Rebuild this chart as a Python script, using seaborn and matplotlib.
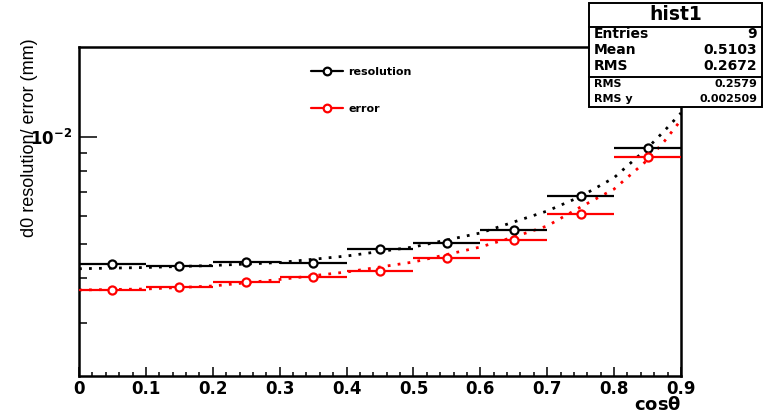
import matplotlib
matplotlib.use("Agg")
import matplotlib.pyplot as plt
import numpy as np
import pandas as pd
import seaborn as sns
from matplotlib.lines import Line2D
from matplotlib.patches import Rectangle
from matplotlib.ticker import LogLocator, NullFormatter, FixedLocator, FixedFormatter, MultipleLocator

# Bin centres of cos(theta) and the half width of each bin
cos_centres = [0.05, 0.15, 0.25, 0.35, 0.45, 0.55, 0.65, 0.75, 0.85]
bin_half = 0.05
tick_labels = ["0", "0.1", "0.2", "0.3", "0.4", "0.5", "0.6", "0.7", "0.8", "0.9"]

# d0 resolution and d0 error (mm)
resolution = [0.004397, 0.004325, 0.004455, 0.004408, 0.004846,
              0.005037, 0.005469, 0.006828, 0.009277]
error = [0.003710, 0.003790, 0.003914, 0.004035, 0.004202,
         0.004554, 0.005126, 0.006074, 0.008786]

# Dotted fit curves
fit_x = [0.0, 0.1, 0.2, 0.3, 0.4, 0.5, 0.6, 0.65, 0.7, 0.75, 0.8, 0.85, 0.875, 0.9]
fit_resolution = [0.004257, 0.004291, 0.004347, 0.004431, 0.004622, 0.004899,
                  0.005364, 0.005760, 0.006184, 0.006792, 0.007672, 0.009296,
                  0.010380, 0.011658]
fit_error = [0.003710, 0.003734, 0.003807, 0.003971, 0.004168, 0.004446,
             0.004899, 0.005226, 0.005614, 0.006346, 0.007128, 0.008603,
             0.009700, 0.011140]

# Stats box
stats_main = [("Entries", "9"), ("Mean", "0.5103"), ("RMS", "0.2672")]
stats_extra = [("RMS", "0.2579"), ("RMS y", "0.002509")]

sns.set_style("white")
plt.rcParams["font.family"] = ["DejaVu Sans"]
plt.rcParams["mathtext.fontset"] = "dejavusans"
for key in ["text.color", "axes.labelcolor", "xtick.color", "ytick.color"]:
    plt.rcParams[key] = "black"

fig = plt.figure(figsize=(7.65, 4.13), dpi=100)
ax = fig.add_axes([0.1033, 0.0903, 0.7869, 0.7971])

pts = pd.DataFrame({"cos": cos_centres, "resolution": resolution, "error": error})
fits = pd.DataFrame({"cos": fit_x, "resolution": fit_resolution, "error": fit_error})

for col, colour in [("resolution", "black"), ("error", "#ff0000")]:
    sns.lineplot(data=fits, x="cos", y=col, color=colour, lw=2.0,
                 linestyle=(0, (1, 2.6)), sort=False, estimator=None, ax=ax)
    ax.errorbar(pts["cos"], pts[col], xerr=bin_half, fmt="none",
                ecolor=colour, elinewidth=1.6, capsize=0, zorder=3)
    sns.scatterplot(data=pts, x="cos", y=col, marker="o", s=34,
                    facecolor="white", edgecolor=colour, linewidth=1.6,
                    zorder=4, ax=ax)

ax.set_yscale("log")
ax.set_xlim(0, 0.9)
ax.set_ylim(0.002131, 0.01792)

# ticks, ROOT style (inside, bottom and left only)
ax.set_xticks([i / 10 for i in range(10)])
ax.set_xticklabels(tick_labels, fontsize=12, fontweight="bold")
ax.xaxis.set_minor_locator(MultipleLocator(0.02))
ax.yaxis.set_major_locator(FixedLocator([0.01]))
ax.yaxis.set_major_formatter(FixedFormatter([r"$\mathbf{10^{-2}}$"]))
ax.yaxis.set_minor_locator(LogLocator(base=10, subs=np.arange(2, 10)))
ax.yaxis.set_minor_formatter(NullFormatter())
ax.tick_params(which="both", bottom=True, left=True, top=False, right=False)
ax.tick_params(axis="x", which="major", direction="in", length=6.5, width=1.1, pad=3)
ax.tick_params(axis="x", which="minor", direction="in", length=3.2, width=1.1)
ax.tick_params(axis="y", which="major", direction="in", length=13, width=1.1,
               pad=5, labelsize=12)
ax.tick_params(axis="y", which="minor", direction="in", length=6, width=1.1)
for s in ax.spines.values():
    s.set_linewidth(1.8)
    s.set_color("black")

ax.set_xlabel(r"cos$\mathbf{\theta}$", loc="right", fontsize=13,
              fontweight="bold", labelpad=-1)
ax.set_ylabel("")
fig.text(0.039, 0.908, "d0 resolution/ error (mm)", rotation=90, ha="center",
         va="top", fontsize=13, family="Liberation Sans")

handles = [Line2D([], [], color="black", lw=1.6, marker="o", ms=5.5, mfc="white", mew=1.6),
           Line2D([], [], color="#ff0000", lw=1.6, marker="o", ms=5.5, mfc="white", mew=1.6)]
fig.legend(handles, ["resolution", "error"], loc="upper left",
           bbox_to_anchor=(0.4065, 0.838), frameon=False, borderpad=0,
           borderaxespad=0, handlelength=2.9, handletextpad=0.45,
           labelspacing=2.42, prop={"weight": "bold", "size": 8})

# stats box drawn on the figure
W, H = 765.0, 413.0
def fx(px):
    return px / W
def fy(py):
    return 1 - py / H

box_l, box_r = 589, 762
fig.patches.append(Rectangle((fx(box_l), fy(107)), fx(box_r) - fx(box_l), fy(3) - fy(107),
                             transform=fig.transFigure, facecolor="white",
                             edgecolor="black", lw=1.4, zorder=5))
for yline in [27, 77]:
    fig.add_artist(Line2D([fx(box_l), fx(box_r)], [fy(yline), fy(yline)],
                          transform=fig.transFigure, color="black", lw=1.4, zorder=6))
fig.text(fx((box_l + box_r) / 2), fy(15), "hist1", ha="center", va="center",
         fontsize=13.5, fontweight="bold", zorder=7)
for i, (name, val) in enumerate(stats_main):
    yy = fy(34 + 16 * i)
    fig.text(fx(594), yy, name, ha="left", va="center", fontsize=10, fontweight="bold", zorder=7)
    fig.text(fx(757), yy, val, ha="right", va="center", fontsize=10, fontweight="bold", zorder=7)
for i, (name, val) in enumerate(stats_extra):
    yy = fy(84 + 15 * i)
    fig.text(fx(594), yy, name, ha="left", va="center", fontsize=8, fontweight="bold", zorder=7)
    fig.text(fx(757), yy, val, ha="right", va="center", fontsize=8, fontweight="bold", zorder=7)

fig.savefig("out.png", dpi=100)
